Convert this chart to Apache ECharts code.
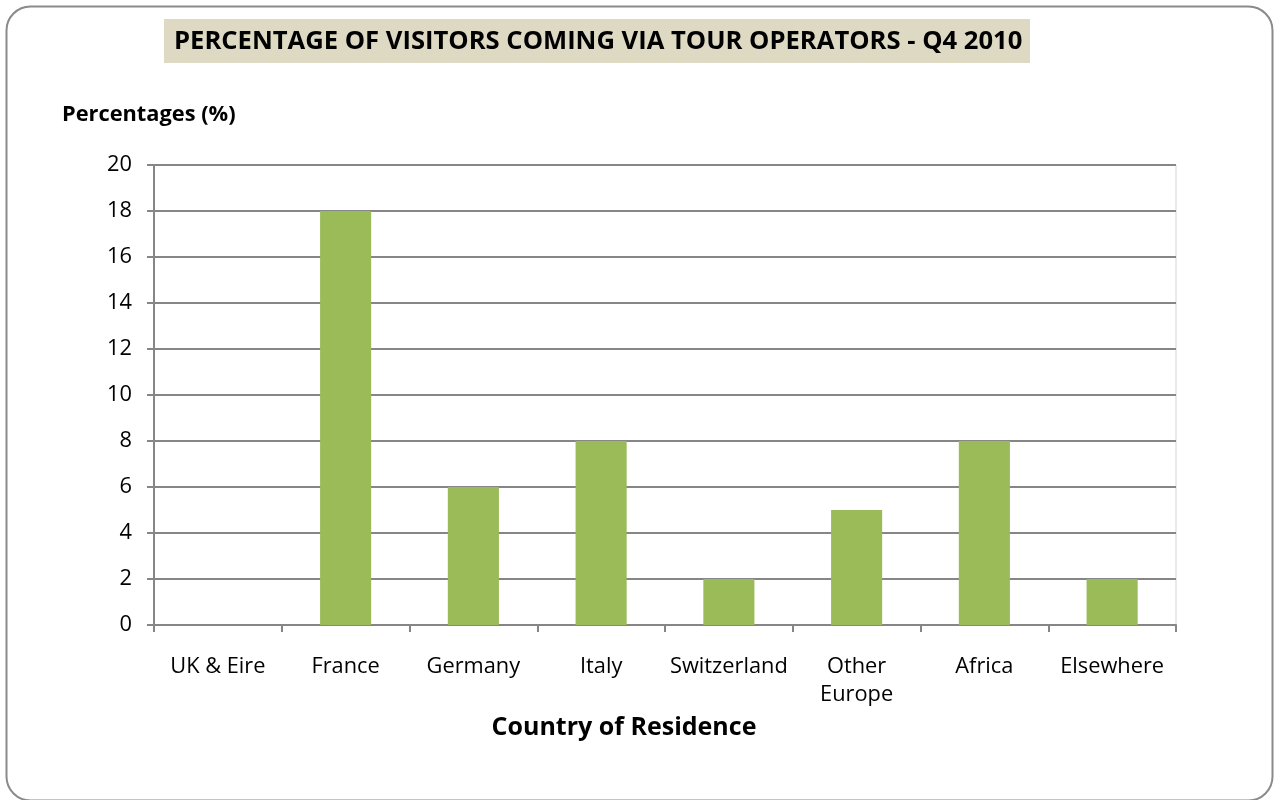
<!DOCTYPE html>
<html>
<head>
<meta charset="utf-8">
<script src="https://cdn.jsdelivr.net/npm/echarts@6/dist/echarts.min.js"></script>
<style>
  html, body { margin: 0; padding: 0; background: #fff; }
  #chart { width: 1274px; height: 800px; }
</style>
</head>
<body>
<div id="chart"></div>
<script>
// Country of residence and share of visitors arriving through tour operators
const categories = ['UK & Eire', 'France', 'Germany', 'Italy', 'Switzerland', 'Other\nEurope', 'Africa', 'Elsewhere'];
const percentages = [0, 18, 6, 8, 2, 5, 8, 2];
const yTicks = { min: 0, max: 20, interval: 2 };

const TITLE = 'PERCENTAGE OF VISITORS COMING VIA TOUR OPERATORS - Q4 2010';
const Y_NAME = 'Percentages (%)';
const X_NAME = 'Country of Residence';

const FAMILY = '"Open Sans", Lato, sans-serif';

// Pick a font size so a string spans the wanted width
const measureCtx = document.createElement('canvas').getContext('2d');
function fitSize(text, weight, width) {
  measureCtx.font = weight + ' 100px ' + FAMILY;
  return Math.round(100 * width / measureCtx.measureText(text).width * 10) / 10;
}
const titleSize = fitSize(TITLE, 'bold', 848);
const yNameSize = fitSize(Y_NAME, 'bold', 174);
const xNameSize = fitSize(X_NAME, 'bold', 265);
const labelSize = fitSize('UK & Eire', 'normal', 95);

const chart = echarts.init(document.getElementById('chart'), null, { renderer: 'canvas' });

chart.setOption({
  backgroundColor: '#ffffff',
  animation: false,
  graphic: [
    {
      type: 'rect',
      left: 4, top: 4,
      shape: { width: 1266, height: 794, r: 24 },
      style: { fill: 'none', stroke: '#8a8a8a', lineWidth: 2 },
      z: -1
    },
    {
      type: 'rect',
      left: 164, top: 19,
      shape: { width: 866, height: 44 },
      style: { fill: '#DDD9C3' },
      z: 0
    },
    {
      type: 'text',
      x: 174, y: 42,
      style: {
        text: TITLE,
        font: 'bold ' + titleSize + 'px ' + FAMILY,
        fill: '#000',
        verticalAlign: 'middle'
      },
      z: 1
    },
    {
      type: 'text',
      x: 62, y: 115,
      style: { text: Y_NAME, font: 'bold ' + yNameSize + 'px ' + FAMILY, fill: '#000', verticalAlign: 'middle' }
    },
    {
      type: 'text',
      x: 624, y: 728,
      style: {
        text: X_NAME, font: 'bold ' + xNameSize + 'px ' + FAMILY, fill: '#000',
        align: 'center', verticalAlign: 'middle'
      }
    }
  ],
  grid: {
    left: 154, right: 98, top: 165, bottom: 175,
    show: true, borderColor: '#d4d4d4', borderWidth: 1, backgroundColor: 'transparent'
  },
  xAxis: {
    type: 'category',
    data: categories,
    axisLine: { lineStyle: { color: '#868686', width: 2 } },
    axisTick: { show: true, alignWithLabel: false, length: 7, lineStyle: { color: '#868686', width: 2 } },
    axisLabel: { fontFamily: FAMILY, fontSize: labelSize, color: '#000', margin: 28, lineHeight: 28, interval: 0 }
  },
  yAxis: {
    type: 'value',
    min: yTicks.min, max: yTicks.max, interval: yTicks.interval,
    axisLine: { show: true, lineStyle: { color: '#868686', width: 2 } },
    axisTick: { show: true, length: 7, lineStyle: { color: '#868686', width: 2 } },
    axisLabel: { fontFamily: FAMILY, fontSize: labelSize, color: '#000', margin: 22 },
    splitLine: { show: true, lineStyle: { color: '#868686', width: 2 } }
  },
  series: [{
    type: 'bar',
    data: percentages,
    barWidth: '40%',
    itemStyle: { color: '#9BBB59' }
  }]
});
</script>
</body>
</html>
